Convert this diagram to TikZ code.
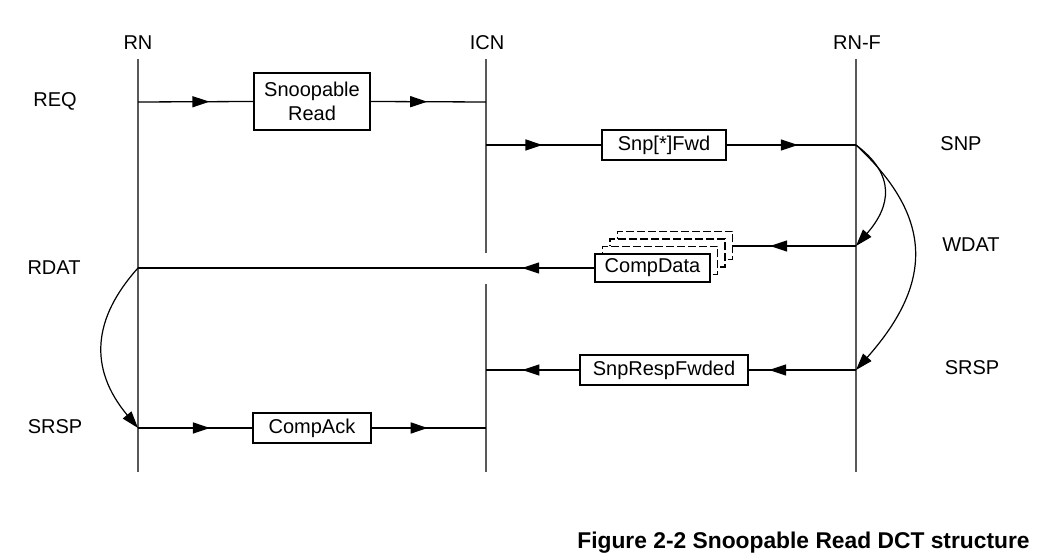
\documentclass[tikz,border=0pt]{standalone}
\usepackage{fontspec}
\setmainfont{Liberation Sans}
\usetikzlibrary{arrows.meta, decorations.markings, positioning}
\tikzset{
	lifeline/.style={line width=0.9pt, black!65}
}
\tikzset{
	msgbox/.style={draw=black, line width=0.75pt, fill=white, inner sep=0pt,
			font=\fontsize{10}{12}\selectfont, align=center}
}
\tikzset{
	dashbox/.style={msgbox, dash pattern=on 4pt off 1.5pt,
			minimum width=57.5pt, minimum height=14pt}
}
\tikzset{
	chantext/.style={font=\fontsize{10}{12}\selectfont}
}
\tikzset{
	midhead/.style={
			line width=0.65pt,
			postaction={decorate,decoration={markings,
						mark=at position #1 with {\arrow{Triangle[length=8.5pt,width=5.5pt]}}}}
		}
}
\tikzset{
	curvehead/.style={line width=0.6pt, -{Triangle[length=8.5pt,width=5.5pt]}}
}

\begin{document}
\begin{tikzpicture}[x=0.5pt,y=-0.5pt]

			\useasboundingbox (0,0) rectangle (1060,560);

			% lifelines
			\begin{scope}
				\node[chantext] (rn) at (138,43) {RN};
				\node[chantext] (icn) at (487,43) {ICN};
				\node[chantext] (rnf) at (857,43) {RN-F};

				\coordinate (rn-top) at (138,59);
				\coordinate (rn-bot) at (138,472);
				\coordinate (icn-top) at (486,59);
				\coordinate (icn-gapa) at (486,253);
				\coordinate (icn-gapb) at (486,284);
				\coordinate (icn-bot) at (486,472);
				\coordinate (rnf-top) at (856,59);
				\coordinate (rnf-bot) at (856,472);

				\draw[lifeline] (rn-top) -- (rn-bot);
				\draw[lifeline] (icn-top) -- (icn-gapa);
				\draw[lifeline] (icn-gapb) -- (icn-bot);
				\draw[lifeline] (rnf-top) -- (rnf-bot);
			\end{scope}

			% channel labels
			\begin{scope}
				\node[chantext] (l1) at (55,101) {REQ};
				\node[chantext] (l2) at (54,268) {RDAT};
				\node[chantext] (l3) at (55,427) {SRSP};
				\node[chantext] (l4) at (961,144) {SNP};
				\node[chantext] (l5) at (971,245) {WDAT};
				\node[chantext] (l6) at (972,368) {SRSP};
			\end{scope}

			% message boxes
			\begin{scope}
				\node[msgbox, minimum width=58pt, minimum height=28.5pt] (snpread) at (312,101.5) {Snoopable\\Read};
				\node[msgbox, minimum width=62pt, minimum height=15pt] (snpfwd) at (664,145) {Snp[*]Fwd};

				\node[dashbox] (cd3) at (675,245.5) {};
				\node[dashbox] (cd2) at (667.5,253) {};
				\node[dashbox] (cd1) at (660,260.5) {};
				\node[msgbox, minimum width=57.5pt, minimum height=14pt] (compdata) at (652.5,268) {CompData};

				\node[msgbox, minimum width=84pt, minimum height=15pt] (snpresp) at (664,370) {SnpRespFwded};
				\node[msgbox, minimum width=59pt, minimum height=15pt] (compack) at (312,428) {CompAck};
			\end{scope}

			% connection points on the lifelines
			\coordinate (rn-req) at (138,102);
			\coordinate (icn-req) at (486,102);
			\coordinate (icn-snp) at (486,145);
			\coordinate (rnf-snp) at (856,145);
			\coordinate (rnf-wdat) at (856,246);
			\coordinate (rn-rdat) at (138,268);
			\coordinate (rnf-srsp) at (856,370);
			\coordinate (icn-srsp) at (486,370);
			\coordinate (rn-srsp) at (138,428);
			\coordinate (icn-ack) at (486,428);

			% messages
			\draw[midhead=0.62] (rn-req) -- (snpread.west);
			\draw[midhead=0.49] (snpread.east) -- (icn-req);
			\draw[midhead=0.49] (icn-snp) -- (snpfwd.west);
			\draw[midhead=0.55] (snpfwd.east) -- (rnf-snp);
			\draw[midhead=0.70] (rnf-wdat) -- (cd3.east |- rnf-wdat);
			\draw[midhead=0.158] (compdata.west) -- (rn-rdat);
			\draw[midhead=0.81] (rnf-srsp) -- (snpresp.east);
			\draw[midhead=0.61] (snpresp.west) -- (icn-srsp);
			\draw[midhead=0.63] (rn-srsp) -- (compack.west);
			\draw[midhead=0.49] (compack.east) -- (icn-ack);

			% dependencies
			\draw[curvehead] (rnf-snp) .. controls +(40,30) and +(35,-40) .. (rnf-wdat);
			\draw[curvehead] (rnf-snp) .. controls +(75,70) and +(80,-90) .. (rnf-srsp);
			\draw[curvehead] (rn-rdat) .. controls +(-45,50) and +(-50,-60) .. (rn-srsp);

			\node[anchor=east, inner sep=0pt, font=\fontsize{11.4}{13}\selectfont\bfseries] (caption) at (1030,543) {Figure 2-2 Snoopable Read DCT structure};

		\end{tikzpicture}
\end{document}
